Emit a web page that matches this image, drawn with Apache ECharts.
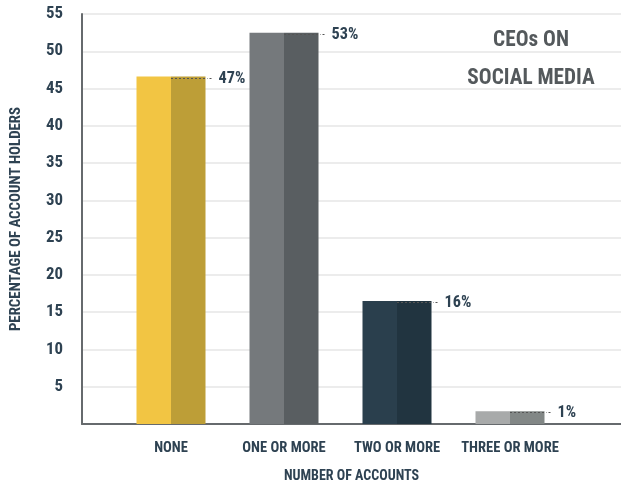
<!DOCTYPE html>
<html>
<head>
<meta charset="utf-8">
<script src="https://cdn.jsdelivr.net/npm/echarts@6/dist/echarts.min.js"></script>
<style>html,body{margin:0;padding:0;background:#fff}#c{width:621px;height:483px}</style>
</head>
<body>
<div id="c"></div>
<script>
const categories = ['NONE', 'ONE OR MORE', 'TWO OR MORE', 'THREE OR MORE'];
const values = [46.6, 52.5, 16.5, 1.7];
const valueLabels = ['47%', '53%', '16%', '1%'];
const lightColors = ['#F2C543', '#75797C', '#2A3F4D', '#A8AAAA'];
const darkColors = ['#BD9E37', '#595E61', '#213440', '#828786'];
const yTicks = [0, 5, 10, 15, 20, 25, 30, 35, 40, 45, 50, 55];

// pick the narrowest installed condensed font
function hasFont(name) {
  const c = document.createElement('canvas').getContext('2d');
  const s = 'NUMBER OF ACCOUNTS 0123456789';
  c.font = 'bold 40px monospace'; const w1 = c.measureText(s).width;
  c.font = 'bold 40px "' + name + '", monospace'; const w2 = c.measureText(s).width;
  c.font = 'bold 40px serif'; const w3 = c.measureText(s).width;
  c.font = 'bold 40px "' + name + '", serif'; const w4 = c.measureText(s).width;
  return w1 !== w2 || w3 !== w4;
}
const candidates = ['Liberation Sans Narrow', 'Arial Narrow', 'Roboto Condensed', 'DejaVu Sans Condensed'];
let chosen = 'DejaVu Sans Condensed';
for (const f of candidates) { if (hasFont(f)) { chosen = f; break; } }
const NARROW = chosen !== 'DejaVu Sans Condensed';
const FONT = '"' + chosen + '", "DejaVu Sans Condensed", sans-serif';
const S = NARROW ? 1.12 : 1;
const TXT = '#2E4252';
const BAR_W = 34.5;

const chart = echarts.init(document.getElementById('c'), null, {renderer: 'canvas'});
chart.setOption({
  animation: false,
  title: {
    text: 'CEOs ON\nSOCIAL MEDIA',
    left: 526, top: 17, textAlign: 'center',
    textStyle: {fontFamily: FONT, fontWeight: 'bold', fontSize: 19 * S, color: '#54595C', lineHeight: 38}
  },
  grid: [
    {left: 82, right: 0, top: 14, bottom: 59, outerBoundsMode: 'none', containLabel: false},
    {left: 114.5, right: 54.5, top: 14, bottom: 59, outerBoundsMode: 'none', containLabel: false}
  ],
  xAxis: [
    {type: 'value', gridIndex: 0, min: 0, max: 1,
     axisLine: {show: true, onZero: false, lineStyle: {color: '#666A6D', width: 2}},
     axisTick: {show: false}, axisLabel: {show: false}, splitLine: {show: false},
     name: 'NUMBER OF ACCOUNTS', nameLocation: 'middle', nameGap: 45,
     nameTextStyle: {fontFamily: FONT, fontWeight: 'bold', fontSize: 12.5 * S, color: TXT}},
    {type: 'category', gridIndex: 1, data: categories,
     axisLine: {show: false}, axisTick: {show: false},
     axisLabel: {interval: 0, margin: 17, fontFamily: FONT, fontWeight: 'bold', fontSize: 13 * S, color: TXT}}
  ],
  yAxis: [
    {type: 'value', gridIndex: 0, min: yTicks[0], max: yTicks[yTicks.length - 1], interval: 5,
     axisLine: {show: true, lineStyle: {color: '#666A6D', width: 2}},
     axisTick: {show: false},
     axisLabel: {margin: 19, fontFamily: FONT, fontWeight: 'bold', fontSize: 15 * S, color: TXT,
       formatter: v => v === 0 ? '' : String(v)},
     splitLine: {show: true, lineStyle: {color: '#E6E6E6', width: 1.5}},
     name: 'PERCENTAGE OF ACCOUNT HOLDERS', nameLocation: 'middle', nameGap: 58, nameRotate: 90,
     nameTextStyle: {fontFamily: FONT, fontWeight: 'bold', fontSize: 13.3 * S, color: TXT}},
    {type: 'value', gridIndex: 1, min: yTicks[0], max: yTicks[yTicks.length - 1], interval: 5, show: false}
  ],
  series: [
    {type: 'bar', name: 'light', xAxisIndex: 1, yAxisIndex: 1, barWidth: BAR_W, barGap: 0,
     data: values.map((v, i) => ({value: v, itemStyle: {color: lightColors[i]}}))},
    {type: 'bar', name: 'dark', xAxisIndex: 1, yAxisIndex: 1, barWidth: BAR_W, barGap: 0,
     data: values.map((v, i) => ({value: v, itemStyle: {color: darkColors[i]}}))},
    {type: 'custom', xAxisIndex: 1, yAxisIndex: 1, z: 5,
     data: values.map((v, i) => [i, v, valueLabels[i]]),
     renderItem: function (params, api) {
       const p = api.coord([api.value(0), api.value(1)]);
       const x0 = p[0];
       const y = Math.round(p[1]) + 1.5;
       const xEnd = x0 + BAR_W + 6;
       return {type: 'group', children: [
         {type: 'line', shape: {x1: x0, y1: y, x2: xEnd - 4, y2: y},
          style: {stroke: '#555', lineWidth: 1, lineDash: [2, 2]}},
         {type: 'line', shape: {x1: xEnd - 2, y1: y, x2: xEnd, y2: y},
          style: {stroke: '#555', lineWidth: 1}},
         {type: 'text', x: xEnd + 7, y: y,
          style: {text: valueLabels[params.dataIndex], fill: TXT, fontFamily: FONT, fontWeight: 'bold',
                  fontSize: 14.5 * S, verticalAlign: 'middle', align: 'left'}}
       ]};
     }}
  ]
});
</script>
</body>
</html>
